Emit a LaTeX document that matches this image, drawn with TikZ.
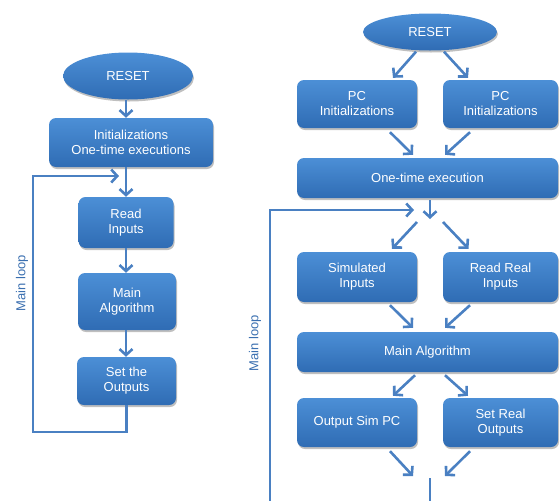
\documentclass[tikz,border=0pt]{standalone}
\usepackage{fontspec}
\setmainfont{Liberation Sans}
\usetikzlibrary{arrows.meta,shapes.geometric,shadows}
\definecolor{boxtop}{HTML}{4C8FD6}
\definecolor{boxbot}{HTML}{2F6CB4}
\definecolor{conn}{HTML}{4A80C2}
\definecolor{looptext}{HTML}{3A6FB0}
\tikzset{
  box/.style={rectangle, rounded corners=7pt, top color=boxtop, bottom color=boxbot, draw=none,
    text=white, align=center, font=\fontsize{13}{15}\selectfont, inner sep=0pt,
    drop shadow={shadow xshift=1pt, shadow yshift=-2pt, opacity=0.25, fill=black}},
  oval/.style={ellipse, top color=boxtop, bottom color=boxbot, draw=none,
    text=white, font=\fontsize{13}{15}\selectfont, inner sep=0pt,
    drop shadow={shadow xshift=1pt, shadow yshift=-2pt, opacity=0.25, fill=black}},
  connline/.style={draw=conn, line width=2.6pt},
  conn/.style={connline, -{Straight Barb[length=6pt,width=13pt,line width=2.6pt]}},
  looplabel/.style={rotate=90, text=looptext, font=\fontsize{13}{15}\selectfont}
}
\begin{document}
\begin{tikzpicture}[x=1pt,y=-1pt]
\useasboundingbox (0,0) rectangle (560,501);
% ---------- left flowchart ----------
\node[oval, minimum width=130pt, minimum height=47pt] (lreset) at (128,76) {RESET};
\node[box, minimum width=164pt, minimum height=49pt] (linit) at (131,142.5) {Initializations\\One-time executions};
\node[box, minimum width=95pt, minimum height=51pt] (lread) at (126,222.5) {Read\\Inputs};
\node[box, minimum width=98pt, minimum height=57pt] (lmain) at (127,301.5) {Main\\Algorithm};
\node[box, minimum width=99pt, minimum height=48pt] (lset) at (126.5,381) {Set the\\Outputs};
\draw[conn] (lreset.south -| lread.north) -- (linit.north -| lread.north);
\draw[conn] (linit.south -| lread.north) -- (lread.north);
\draw[conn] (lread.south) -- (lmain.north -| lread.south);
\draw[conn] (lmain.south -| lread.south) -- (lset.north -| lread.south);
\coordinate (lloopb) at (33,432);
\coordinate (lloopt) at (33,176);
\coordinate (ljoin) at (119,176);
\draw[conn] (lset.south) |- (lloopb) -- (lloopt) -- (ljoin);
\node[looplabel] (lloop) at (22,283) {Main loop};
% ---------- right flowchart ----------
\node[oval, minimum width=134pt, minimum height=37pt] (rreset) at (430,32) {RESET};
\node[box, minimum width=120pt, minimum height=48pt] (rpc1) at (357,104) {PC\\Initializations};
\node[box, minimum width=115pt, minimum height=48pt] (rpc2) at (500.5,104) {PC\\Initializations};
\node[box, minimum width=261pt, minimum height=40pt] (rone) at (427.5,178) {One-time execution};
\node[box, minimum width=120pt, minimum height=50pt] (rsim) at (357,277) {Simulated\\Inputs};
\node[box, minimum width=115pt, minimum height=50pt] (rreal) at (500.5,277) {Read Real\\Inputs};
\node[box, minimum width=261pt, minimum height=40pt] (rmain) at (427.5,352) {Main Algorithm};
\node[box, minimum width=120pt, minimum height=49pt] (rout) at (357,422.5) {Output Sim PC};
\node[box, minimum width=115pt, minimum height=49pt] (rsreal) at (500.5,422.5) {Set Real\\Outputs};
% reset -> pc
\draw[conn] ([xshift=-14pt,yshift=-1pt]rreset.south) -- ([xshift=36pt,yshift=2pt]rpc1.north);
\draw[conn] ([xshift=14pt,yshift=-1pt]rreset.south) -- ([xshift=-32.5pt,yshift=2pt]rpc2.north);
% pc -> one-time
\draw[conn] ([xshift=33pt,yshift=-4pt]rpc1.south) -- ([xshift=-14.5pt,yshift=3pt]rone.north);
\draw[conn] ([xshift=-30.5pt,yshift=-4pt]rpc2.south) -- ([xshift=17.5pt,yshift=3pt]rone.north);
% one-time -> split
\coordinate (rjtop) at (430,219);
\coordinate (rsplit) at (430,222);
\draw[conn] ([xshift=2.5pt,yshift=-2pt]rone.south) -- (rjtop);
% loop back
\coordinate (rloopb) at (270,501);
\coordinate (rloopt) at (270,210);
\coordinate (rjin) at (414,210);
\draw[conn] (rloopb) -- (rloopt) -- (rjin);
% split -> inputs
\draw[conn] ([xshift=-13pt]rsplit) -- ([xshift=35pt,yshift=3pt]rsim.north);
\draw[conn] ([xshift=13pt]rsplit) -- ([xshift=-32pt,yshift=3pt]rreal.north);
% inputs -> main
\draw[conn] ([xshift=33pt,yshift=-3pt]rsim.south) -- ([xshift=-14.5pt,yshift=4pt]rmain.north);
\draw[conn] ([xshift=-30.5pt,yshift=-3pt]rreal.south) -- ([xshift=17.5pt,yshift=4pt]rmain.north);
% main -> outputs
\draw[conn] ([xshift=-12.5pt,yshift=-3pt]rmain.south) -- ([xshift=36pt,yshift=2pt]rout.north);
\draw[conn] ([xshift=17.5pt,yshift=-3pt]rmain.south) -- ([xshift=-32.5pt,yshift=2pt]rsreal.north);
% outputs -> merge
\coordinate (rmerge) at (430,478);
\coordinate (rend) at (430,501);
\draw[conn] ([xshift=33pt,yshift=-4pt]rout.south) -- ([xshift=-17pt,yshift=2pt]rmerge);
\draw[conn] ([xshift=-30.5pt,yshift=-4pt]rsreal.south) -- ([xshift=15pt,yshift=2pt]rmerge);
\draw[connline] (rmerge) -- (rend);
\node[looplabel] (rloop) at (255,343) {Main loop};
\end{tikzpicture}
\end{document}
